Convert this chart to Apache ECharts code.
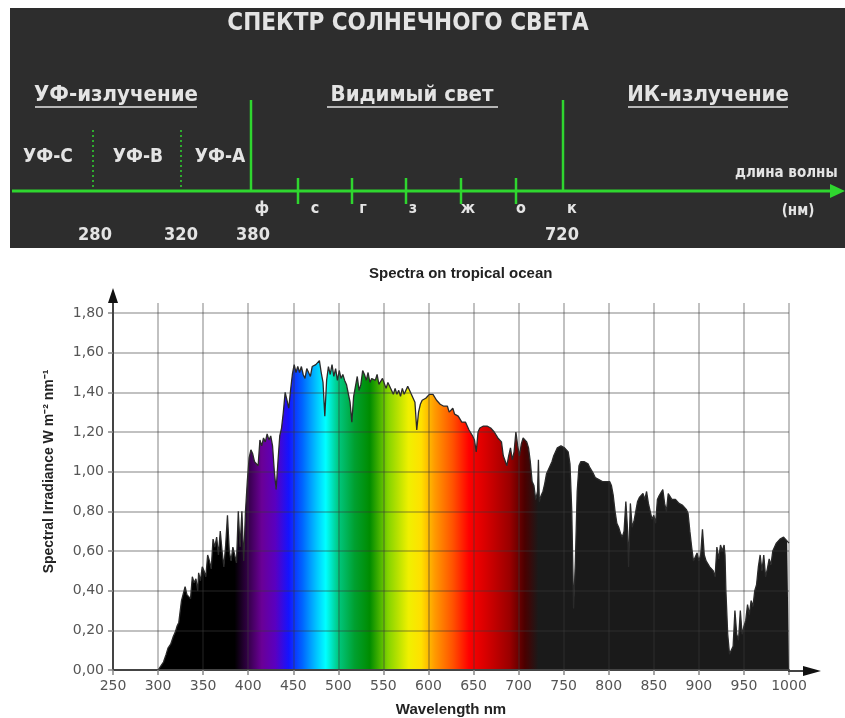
<!DOCTYPE html>
<html>
<head>
<meta charset="utf-8">
<script src="https://cdn.jsdelivr.net/npm/echarts@6.0.0/dist/echarts.min.js"></script>
<style>
  html, body { margin: 0; padding: 0; background: #fff; }
  #spectrum-chart { width: 845px; height: 718px; }
</style>
</head>
<body>
<div id="spectrum-chart"></div>
<script>
// spectral irradiance, [wavelength nm, W m-2 nm-1]
const uvBand = [
  [250, 0], [295, 0], [300, 0], [303, 0.02], [306, 0.04], [309, 0.08], [311, 0.11], [314, 0.13],
  [317, 0.17], [319, 0.19], [321, 0.22], [323, 0.24], [324, 0.25], [326, 0.35], [328, 0.36],
  [330, 0.42], [332, 0.38], [334, 0.37], [336, 0.36], [338, 0.47], [340, 0.44], [342, 0.46],
  [344, 0.40], [345, 0.49], [347, 0.45], [349, 0.52], [351, 0.50], [353, 0.47], [355, 0.58],
  [357, 0.55], [359, 0.51], [361, 0.66], [363, 0.62], [365, 0.67], [367, 0.58], [369, 0.70],
  [371, 0.60], [373, 0.52], [375, 0.63], [377, 0.78], [379, 0.60], [381, 0.55], [383, 0.62],
  [385, 0.58], [387, 0.54], [389, 0.80], [391, 0.62], [393, 0.80], [395, 0.55], [397, 0.80],
  [399, 0.95]
];
const visibleBand = [
  [401, 1.07], [403, 1.11], [405, 1.09], [407, 1.05], [409, 1.06], [411, 1.03], [413, 1.16],
  [415, 1.13], [417, 1.17], [419, 1.15], [421, 1.19], [423, 1.16], [425, 1.18], [427, 1.13],
  [429, 1.00], [431, 0.91], [433, 1.05], [435, 1.18], [437, 1.22], [439, 1.30], [441, 1.40],
  [443, 1.36], [445, 1.32], [447, 1.41], [449, 1.49], [451, 1.54], [453, 1.50], [455, 1.53],
  [457, 1.50], [459, 1.53], [461, 1.49], [463, 1.47], [465, 1.52], [467, 1.50], [469, 1.48],
  [471, 1.53], [473, 1.52], [475, 1.54], [477, 1.53], [479, 1.56], [481, 1.50], [483, 1.45],
  [485, 1.28], [487, 1.46], [489, 1.53], [491, 1.49], [493, 1.54], [495, 1.48], [497, 1.52],
  [499, 1.46], [501, 1.51], [503, 1.47], [505, 1.49], [507, 1.46], [509, 1.44], [511, 1.45],
  [513, 1.35], [515, 1.25], [517, 1.38], [519, 1.43], [521, 1.48], [523, 1.41], [525, 1.44],
  [527, 1.51], [529, 1.49], [531, 1.46], [533, 1.50], [535, 1.45], [537, 1.47], [539, 1.48],
  [541, 1.46], [543, 1.49], [545, 1.44], [547, 1.43], [549, 1.47], [551, 1.46], [553, 1.42],
  [555, 1.45], [557, 1.44], [559, 1.41], [561, 1.39], [563, 1.42], [565, 1.39], [567, 1.41],
  [569, 1.38], [571, 1.42], [573, 1.39], [575, 1.40], [577, 1.43], [579, 1.41], [581, 1.39],
  [583, 1.40], [585, 1.35], [587, 1.21], [589, 1.30], [591, 1.34], [593, 1.36], [595, 1.35],
  [597, 1.37], [599, 1.38], [601, 1.39], [603, 1.40], [605, 1.39], [607, 1.38], [609, 1.36],
  [611, 1.37], [613, 1.34], [615, 1.35], [617, 1.33], [619, 1.32], [621, 1.33], [623, 1.30],
  [625, 1.31], [627, 1.32], [629, 1.29], [631, 1.30], [633, 1.28], [635, 1.27], [637, 1.25],
  [639, 1.24], [641, 1.25], [643, 1.23], [645, 1.21], [647, 1.20], [649, 1.18], [651, 1.16],
  [653, 1.10], [655, 1.20], [657, 1.22], [659, 1.21], [661, 1.23], [663, 1.24], [665, 1.23],
  [667, 1.24], [669, 1.22], [671, 1.21], [673, 1.20], [675, 1.19], [677, 1.17], [679, 1.16],
  [681, 1.15], [683, 1.08], [685, 1.07], [687, 1.03], [689, 1.08], [691, 1.12], [693, 1.06],
  [695, 1.10], [697, 1.20], [699, 1.13], [701, 1.08], [703, 1.14], [705, 1.17], [707, 1.16],
  [709, 1.15], [711, 1.12], [713, 1.05], [715, 0.95], [717, 0.93], [719, 0.86]
];
const irBand = [
  [721, 0.90], [722, 1.06], [723, 0.85], [725, 0.88], [727, 0.90], [729, 0.94], [731, 0.99],
  [733, 1.01], [735, 1.03], [737, 1.05], [739, 1.08], [741, 1.10], [743, 1.12], [745, 1.13],
  [747, 1.13], [749, 1.12], [751, 1.12], [753, 1.11], [755, 1.10], [757, 1.04], [759, 0.80],
  [761, 0.31], [763, 0.55], [765, 0.90], [767, 1.03], [769, 1.05], [771, 1.06], [773, 1.05],
  [775, 1.05], [777, 1.04], [779, 1.02], [781, 1.01], [783, 0.99], [785, 0.97], [787, 0.96],
  [789, 0.96], [791, 0.97], [793, 0.95], [795, 0.96], [797, 0.95], [799, 0.96], [801, 0.95],
  [803, 0.93], [805, 0.88], [807, 0.80], [809, 0.74], [811, 0.72], [813, 0.69], [815, 0.67],
  [817, 0.70], [819, 0.85], [821, 0.70], [822, 0.52], [824, 0.84], [826, 0.72], [828, 0.75],
  [830, 0.80], [832, 0.85], [834, 0.87], [836, 0.86], [838, 0.89], [840, 0.86], [842, 0.90],
  [844, 0.84], [846, 0.80], [848, 0.76], [850, 0.78], [852, 0.74], [854, 0.86], [856, 0.88],
  [858, 0.87], [860, 0.91], [862, 0.84], [864, 0.80], [866, 0.89], [868, 0.88], [870, 0.86],
  [872, 0.87], [874, 0.86], [876, 0.85], [878, 0.84], [880, 0.85], [882, 0.83], [884, 0.83],
  [886, 0.81], [888, 0.79], [890, 0.70], [892, 0.62], [894, 0.55], [896, 0.56], [898, 0.59],
  [900, 0.55], [902, 0.58], [904, 0.71], [906, 0.58], [908, 0.55], [910, 0.54], [912, 0.52],
  [914, 0.51], [916, 0.50], [918, 0.47], [920, 0.62], [922, 0.56], [924, 0.63], [926, 0.60],
  [928, 0.63], [929, 0.58], [930, 0.40], [932, 0.18], [934, 0.08], [936, 0.08], [938, 0.12],
  [940, 0.30], [942, 0.18], [944, 0.15], [946, 0.30], [948, 0.18], [950, 0.22], [952, 0.25],
  [954, 0.33], [956, 0.28], [958, 0.35], [960, 0.32], [962, 0.40], [964, 0.43], [966, 0.52],
  [968, 0.58], [970, 0.50], [972, 0.58], [974, 0.47], [976, 0.51], [978, 0.56], [980, 0.53],
  [982, 0.60], [984, 0.62], [986, 0.64], [988, 0.65], [990, 0.66], [992, 0.67], [994, 0.67],
  [996, 0.66], [998, 0.65], [1000, 0.64]
];

// rainbow under the curve, [wavelength nm, colour]
const rainbow = [
  [250, '#000000'], [385, '#000000'], [400, '#35004a'], [415, '#6a0096'], [430, '#5a00c0'],
  [445, '#1414ff'], [460, '#0064ff'], [475, '#00c0ff'], [486, '#00ffff'], [500, '#00c880'],
  [518, '#00a030'], [535, '#008c00'], [555, '#84d400'], [578, '#f0f000'], [592, '#ffe000'],
  [607, '#ff9a00'], [627, '#ff5200'], [645, '#ff0000'], [665, '#d40000'], [690, '#9a0000'],
  [707, '#4a0000'], [722, '#1a1a1a'], [1000, '#1a1a1a']
];

const xMin = 250, xMax = 1000;
const yMin = 0, yMax = 1.8;

const spectrum = uvBand.concat(visibleBand, irBand);

const bannerFont = '"Liberation Sans Narrow", "DejaVu Sans Condensed", "Liberation Sans", sans-serif';
const green = '#2fd62f';
const light = '#e4e4e4';

function bannerText(text, x, y, size, align) {
  return {
    type: 'text', x: x, y: y, z: 10,
    style: {
      text: text, fill: light, align: align || 'center', verticalAlign: 'middle',
      font: 'bold ' + size + 'px ' + bannerFont
    }
  };
}
function bannerLine(x1, y1, x2, y2, w, dash) {
  return {
    type: 'line', z: 10,
    shape: { x1: x1, y1: y1, x2: x2, y2: y2 },
    style: { stroke: green, lineWidth: w, lineDash: dash || null }
  };
}

const banner = [
  { type: 'rect', z: 9, shape: { x: 10, y: 8, width: 835, height: 240 }, style: { fill: '#2d2d2d' } },
  bannerText('СПЕКТР СОЛНЕЧНОГО СВЕТА', 408, 24, 24),
  bannerText('УФ-излучение', 116, 95, 22),
  bannerText('Видимый свет', 412, 95, 22),
  bannerText('ИК-излучение', 708, 95, 22),
  { type: 'line', z: 10, shape: { x1: 35, y1: 107, x2: 197, y2: 107 }, style: { stroke: light, lineWidth: 1.5 } },
  { type: 'line', z: 10, shape: { x1: 327, y1: 107, x2: 498, y2: 107 }, style: { stroke: light, lineWidth: 1.5 } },
  { type: 'line', z: 10, shape: { x1: 628, y1: 107, x2: 788, y2: 107 }, style: { stroke: light, lineWidth: 1.5 } },
  bannerText('УФ-С', 48, 157, 19),
  bannerText('УФ-В', 138, 157, 19),
  bannerText('УФ-А', 220, 157, 19),
  bannerLine(12, 191, 832, 191, 3),
  { type: 'polygon', z: 10, shape: { points: [[830, 184], [845, 191], [830, 198]] }, style: { fill: green } },
  bannerLine(251, 100, 251, 191, 2.5),
  bannerLine(563, 100, 563, 191, 2.5),
  bannerLine(93, 130, 93, 191, 1.5, [2, 3]),
  bannerLine(181, 130, 181, 191, 1.5, [2, 3]),
  bannerLine(298, 178, 298, 204, 2.5),
  bannerLine(352, 178, 352, 204, 2.5),
  bannerLine(406, 178, 406, 204, 2.5),
  bannerLine(461, 178, 461, 204, 2.5),
  bannerLine(516, 178, 516, 204, 2.5),
  bannerText('ф', 262, 209, 16),
  bannerText('с', 315, 209, 16),
  bannerText('г', 363, 209, 16),
  bannerText('з', 413, 209, 16),
  bannerText('ж', 468, 209, 16),
  bannerText('о', 521, 209, 16),
  bannerText('к', 572, 209, 16),
  bannerText('длина волны', 735, 173, 15, 'left'),
  bannerText('(нм)', 798, 211, 15),
  bannerText('280', 95, 235, 18),
  bannerText('320', 181, 235, 18),
  bannerText('380', 253, 235, 18),
  bannerText('720', 562, 235, 18),
  // axis arrows of the lower chart
  { type: 'line', z: 5, shape: { x1: 113, y1: 314, x2: 113, y2: 300 }, style: { stroke: '#444', lineWidth: 2 } },
  { type: 'polygon', z: 5, shape: { points: [[108, 303], [113, 288], [118, 303]] }, style: { fill: '#111' } },
  { type: 'line', z: 5, shape: { x1: 788, y1: 671, x2: 806, y2: 671 }, style: { stroke: '#444', lineWidth: 2 } },
  { type: 'polygon', z: 5, shape: { points: [[803, 666], [821, 671], [803, 676]] }, style: { fill: '#111' } }
];

const labelFont = 'DejaVu Sans';

let myChart = echarts.init(document.getElementById('spectrum-chart'));
let option = {
  animation: false,
  backgroundColor: '#fff',
  title: {
    text: 'Spectra on tropical ocean',
    left: 364,
    top: 261,
    textStyle: { fontFamily: 'Liberation Sans', fontSize: 15, fontWeight: 'bold', color: '#222' }
  },
  grid: { left: 113, right: 56, top: 313, bottom: 47 },
  xAxis: [{
    type: 'value', min: xMin, max: xMax, interval: 50, z: 3,
    name: 'Wavelength nm', nameLocation: 'middle', nameGap: 32,
    nameTextStyle: { fontFamily: 'Liberation Sans', fontSize: 15, fontWeight: 'bold', color: '#222' },
    axisLine: { show: true, lineStyle: { color: '#444', width: 2 } },
    axisTick: { show: true, length: 5, lineStyle: { color: '#888', width: 1.5 } },
    axisLabel: {
      margin: 9, fontFamily: labelFont, fontSize: 14, color: '#555',
      formatter: function (v) { return String(v); }
    },
    splitLine: { show: true, lineStyle: { color: 'rgba(60,60,60,0.42)', width: 1.5 } }
  }, {
    type: 'value', position: 'top', min: xMin, max: xMax, interval: 50, z: 3,
    axisLine: { show: false },
    axisTick: { show: true, length: 10, lineStyle: { color: 'rgba(60,60,60,0.42)', width: 1.5 } },
    axisLabel: { show: false },
    splitLine: { show: false }
  }],
  yAxis: {
    type: 'value', min: yMin, max: yMax, interval: 0.2, z: 3,
    name: 'Spectral Irradiance W m⁻² nm⁻¹', nameLocation: 'middle', nameGap: 57, nameRotate: 90,
    nameTextStyle: { fontFamily: 'Liberation Sans', fontSize: 14, fontWeight: 'bold', color: '#222', padding: [0, 0, 0, 40] },
    axisLine: { show: true, lineStyle: { color: '#444', width: 2 } },
    axisTick: { show: true, length: 5, lineStyle: { color: '#888', width: 1.5 } },
    axisLabel: {
      margin: 9, fontFamily: labelFont, fontSize: 14, color: '#555',
      formatter: function (v) { return v.toFixed(2).replace('.', ','); }
    },
    splitLine: { show: true, lineStyle: { color: 'rgba(60,60,60,0.42)', width: 1.5 } }
  },
  graphic: banner,
  series: [{
    type: 'line',
    z: 1,
    data: spectrum,
    symbol: 'none',
    sampling: null,
    lineStyle: { color: '#2a2a2a', width: 1.3 },
    areaStyle: {
      opacity: 1,
      color: new echarts.graphic.LinearGradient(0, 0, 1, 0,
        rainbow.map(function (s) { return { offset: (s[0] - xMin) / (xMax - xMin), color: s[1] }; }))
    }
  }]
};
myChart.setOption(option);
</script>
</body>
</html>
